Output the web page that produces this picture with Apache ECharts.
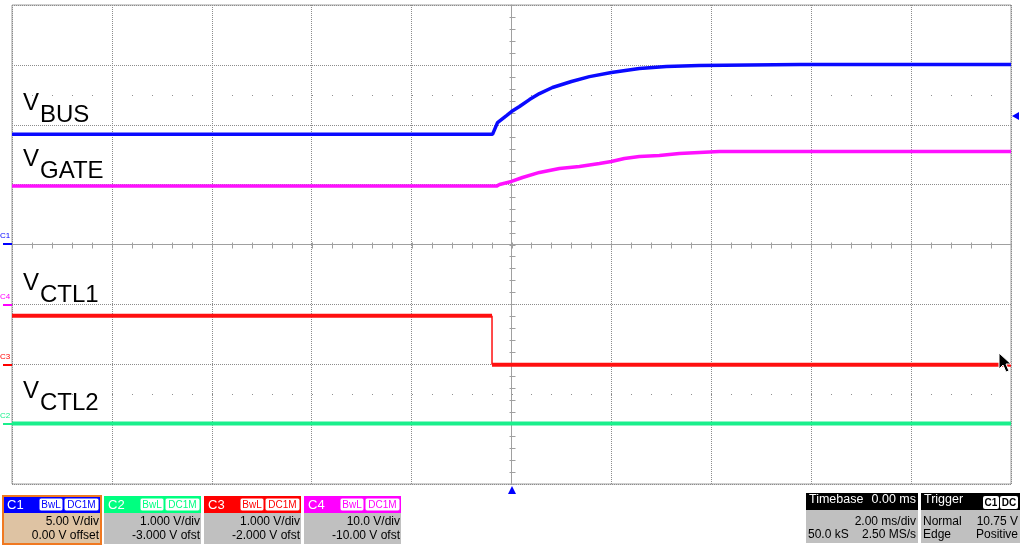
<!DOCTYPE html>
<html><head><meta charset="utf-8">
<script src="https://cdn.jsdelivr.net/npm/echarts@6/dist/echarts.min.js"></script>
<style>html,body{margin:0;padding:0;background:#fff}#c{width:1024px;height:547px}</style>
</head><body><div id="c"></div>
<script>
// ---- data (time in ms, values in volts) ----
const busT  = [-10, -0.38, -0.28, -0.10, 0, 0.16, 0.36, 0.56, 0.82, 1.20, 1.56, 2.00, 2.56, 3.10, 3.76, 5.77, 10];
const busV  = [9.20, 9.20, 10.18, 10.77, 11.10, 11.52, 12.10, 12.60, 13.11, 13.61, 14.02, 14.36, 14.69, 14.86, 14.94, 15.03, 15.03];
const gateT = [-10, -0.30, -0.24, 0, 0.22, 0.56, 0.96, 1.36, 1.76, 2.00, 2.26, 2.56, 2.96, 3.36, 3.76, 4.16, 10];
const gateV = [19.75, 19.75, 20.03, 20.53, 21.19, 22.04, 22.70, 23.04, 23.54, 23.87, 24.37, 24.71, 24.87, 25.21, 25.38, 25.54, 25.54];
const ctl1T = [-10, -0.39, -0.39, 10];
const ctl1V = [0.81, 0.81, -0.01, -0.01];
const ctl2T = [-10, 10];
const ctl2V = [0.01, 0.01];

const channels = ['C1', 'C2', 'C3', 'C4'];
const chScale  = [5, 1, 1, 10];         // V/div
const chOffset = [0, -3, -2, -10];      // V offset
const chColor  = ['#0000ff', '#00ff80', '#ff0000', '#ff00ff'];
const chScaleText  = ['5.00 V/div', '1.000 V/div', '1.000 V/div', '10.0 V/div'];
const chOffsetText = ['0.00 V offset', '-3.000 V ofst', '-2.000 V ofst', '-10.00 V ofst'];
const traceColor = {C1: '#0a0aff', C2: '#1aef8c', C3: '#ff1010', C4: '#ff10ff'};

const xMin = -10, xMax = 10, xStep = 2;   // 2 ms/div
const yMin = -4, yMax = 4;                // divisions

function toDiv(ci, v) { return (v + chOffset[ci]) / chScale[ci]; }
function pts(ci, t, v) { return t.map((x, i) => [x, toDiv(ci, v[i])]); }

const FONT = '"Liberation Sans", Arial, sans-serif';
const GRAY = '#a0a0a0';

// center line ticks and dot rows (decoration)
const tickData = [];
for (let k = 0; k <= 50; k++) tickData.push([xMin + k * 0.4, 0, 0]);
for (let k = 0; k <= 40; k++) tickData.push([0, yMin + k * 0.2, 1]);
for (let k = 1; k < 50; k++) { tickData.push([xMin + k * 0.4, 2.5, 2]); tickData.push([xMin + k * 0.4, -2.5, 2]); }

const chart = echarts.init(document.getElementById('c'), null, {renderer: 'canvas'});

const graphics = [];
function txt(x, y, s, opt) {
  graphics.push(Object.assign({type: 'text', z: 100, style: Object.assign({x: x, y: y, text: s, fill: '#000', font: '12px ' + FONT, textAlign: 'left', textVerticalAlign: 'middle'}, opt || {})}));
}
function rect(x, y, w, h, fill, stroke, lw, r) {
  graphics.push({type: 'rect', z: 90, shape: {x: x, y: y, width: w, height: h, r: r || 0}, style: {fill: fill, stroke: stroke || null, lineWidth: lw || 0}});
}

// Trace labels
const labels = [['BUS', 103.5], ['GATE', 159], ['CTL1', 283.5], ['CTL2', 391.5]];
labels.forEach(l => {
  txt(23, l[1], 'V', {font: '24px ' + FONT});
  txt(40, l[1] + 12, l[0], {font: '24px ' + FONT});
});

// Left channel markers
const markers = [['C1', 244, chColor[0]], ['C4', 305, chColor[3]], ['C3', 365, chColor[2]], ['C2', 424, '#1aef8c']];
markers.forEach(m => {
  txt(0, m[1] - 8, m[0], {font: '8px ' + FONT, fill: m[2]});
  rect(3, m[1] - 1, 9, 2, m[2]);
});

// Trigger markers
graphics.push({type: 'polygon', z: 100, shape: {points: [[512, 486], [508, 494], [516, 494]]}, style: {fill: '#0000ff'}});
graphics.push({type: 'polygon', z: 100, shape: {points: [[1012, 116], [1019, 112], [1019, 120]]}, style: {fill: '#0000ff'}});
// Mouse cursor
graphics.push({type: 'polygon', z: 110, shape: {points: [[999, 353], [999, 369], [1003, 365], [1006, 372], [1009, 371], [1006, 364], [1011, 364]]}, style: {fill: '#000', stroke: '#fff', lineWidth: 1}});

// Channel info boxes
const boxX = [3, 104, 204, 304];
channels.forEach((c, i) => {
  const x0 = boxX[i], w = i === 0 ? 98 : 97;
  if (i === 0) {
    rect(x0, 496, w, 48, '#dec3a3', '#f07820', 2);
  } else {
    rect(x0, 496, w, 48, '#c0c0c0');
  }
  rect(x0 + (i === 0 ? 1 : 0), 496 + (i === 0 ? 1 : 0), w - (i === 0 ? 2 : 0), i === 0 ? 16 : 17, chColor[i]);
  txt(x0 + 4, 505, c, {font: '13px ' + FONT, fill: '#fff'});
  rect(x0 + 36, 498, 24, 13, '#fff', chColor[i], 1, 2);
  rect(x0 + 61, 498, 35, 13, '#fff', chColor[i], 1, 2);
  txt(x0 + 48, 505, 'BwL', {font: '10px ' + FONT, fill: chColor[i], textAlign: 'center'});
  txt(x0 + 78.5, 505, 'DC1M', {font: '10px ' + FONT, fill: chColor[i], textAlign: 'center'});
  txt(x0 + 96, 522, chScaleText[i], {textAlign: 'right'});
  txt(x0 + 96, 536, chOffsetText[i], {textAlign: 'right'});
});

// Timebase box
rect(806, 493, 112, 50, '#c0c0c0');
rect(806, 493, 112, 17, '#000');
txt(809, 500, 'Timebase', {fill: '#fff', font: '12.5px ' + FONT});
txt(916, 500, '0.00 ms', {fill: '#fff', font: '12.5px ' + FONT, textAlign: 'right'});
txt(916, 522, '2.00 ms/div', {textAlign: 'right'});
txt(808, 535, '50.0 kS', {});
txt(916, 535, '2.50 MS/s', {textAlign: 'right'});
// Trigger box
rect(921, 493, 99, 50, '#c0c0c0');
rect(921, 493, 99, 17, '#000');
txt(924, 500, 'Trigger', {fill: '#fff', font: '12.5px ' + FONT});
rect(983, 496, 16, 13, '#fff', null, 0, 2);
rect(1000, 496, 18, 13, '#fff', null, 0, 2);
txt(991, 503, 'C1', {font: 'bold 10px ' + FONT, textAlign: 'center'});
txt(1009, 503, 'DC', {font: 'bold 10px ' + FONT, textAlign: 'center'});
txt(923, 522, 'Normal', {});
txt(1018, 522, '10.75 V', {textAlign: 'right'});
txt(923, 535, 'Edge', {});
txt(1018, 535, 'Positive', {textAlign: 'right'});

function lineSeries(name, ci, data, width) {
  return {
    name: name, type: 'line', data: data, showSymbol: false, animation: false,
    lineStyle: {color: traceColor[channels[ci]], width: width}, z: 10
  };
}
const ctl1Pts = pts(2, ctl1T, ctl1V);

chart.setOption({
  animation: false,
  backgroundColor: '#fff',
  grid: {left: 12, top: 5, width: 999, height: 479, show: true, borderColor: GRAY, borderWidth: 1, backgroundColor: 'transparent'},
  xAxis: {
    type: 'value', min: xMin, max: xMax, interval: xStep,
    axisLabel: {show: false}, axisTick: {show: false},
    axisLine: {show: true, onZero: true, lineStyle: {color: GRAY, width: 1}},
    splitLine: {show: true, lineStyle: {color: '#8c8c8c', width: 1, type: [1, 1]}}
  },
  yAxis: {
    type: 'value', min: yMin, max: yMax, interval: 1,
    axisLabel: {show: false}, axisTick: {show: false},
    axisLine: {show: true, onZero: true, lineStyle: {color: GRAY, width: 1}},
    splitLine: {show: true, lineStyle: {color: '#8c8c8c', width: 1, type: [1, 1]}}
  },
  series: [
    {
      type: 'custom', data: tickData, silent: true, z: 5,
      renderItem: function (params, api) {
        const p = api.coord([api.value(0), api.value(1)]);
        const kind = api.value(2);
        const x = Math.round(p[0]) + 0.5, y = Math.round(p[1]) + 0.5;
        if (kind === 0) return {type: 'line', shape: {x1: x, y1: y - 3, x2: x, y2: y + 3}, style: {stroke: GRAY, lineWidth: 1}};
        if (kind === 1) return {type: 'line', shape: {x1: x - 3, y1: y, x2: x + 3, y2: y}, style: {stroke: GRAY, lineWidth: 1}};
        return {type: 'rect', shape: {x: Math.round(p[0]), y: Math.round(p[1]), width: 1, height: 1}, style: {fill: '#909090'}};
      }
    },
    lineSeries('VCTL2', 1, pts(1, ctl2T, ctl2V), 4),
    lineSeries('VCTL1', 2, ctl1Pts.slice(0, 2), 4),
    lineSeries('VCTL1 edge', 2, ctl1Pts.slice(1, 3), 1.5),
    lineSeries('VCTL1', 2, ctl1Pts.slice(2), 4),
    lineSeries('VGATE', 3, pts(3, gateT, gateV), 3.5),
    lineSeries('VBUS', 0, pts(0, busT, busV), 3.5)
  ],
  graphic: graphics
});
</script>
</body></html>
